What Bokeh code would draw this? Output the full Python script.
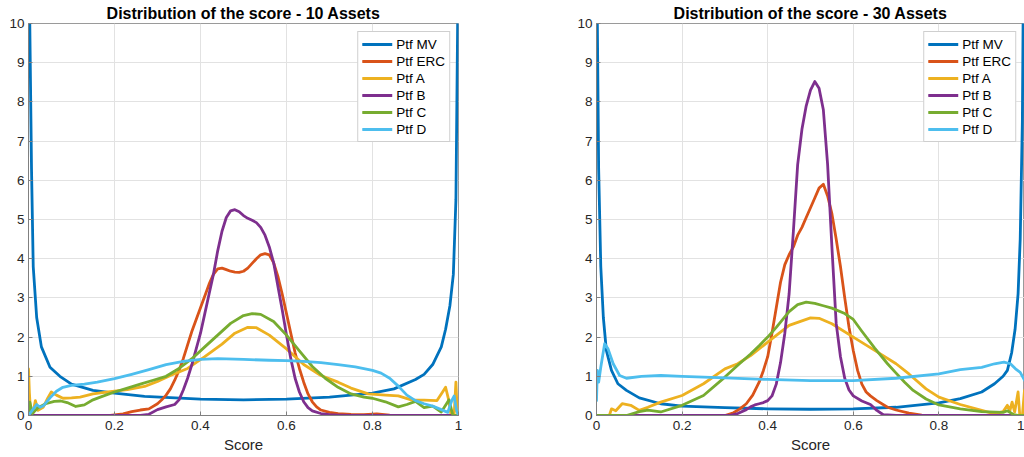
from bokeh.plotting import figure
from bokeh.models import Legend, LegendItem, FixedTicker, Range1d
from bokeh.layouts import row
from bokeh.embed import file_html
from bokeh.resources import INLINE

# ---------------- data ----------------
series_names = ["Ptf MV", "Ptf ERC", "Ptf A", "Ptf B", "Ptf C", "Ptf D"]
series_colors = ["#0072BD", "#D95319", "#EDB120", "#7E2F8E", "#77AC30", "#4DBEEE"]
titles = ["Distribution of the score - 10 Assets", "Distribution of the score - 30 Assets"]
x_ticks = [0, 0.2, 0.4, 0.6, 0.8, 1]
x_tick_labels = ["0", "0.2", "0.4", "0.6", "0.8", "1"]
y_ticks = [0, 1, 2, 3, 4, 5, 6, 7, 8, 9, 10]

# --- 10 assets ---
x10_mv = [0.0, 0.001, 0.003, 0.007, 0.011, 0.019, 0.03, 0.05, 0.073, 0.1, 0.15, 0.2, 0.27, 0.4, 0.5, 0.6, 0.7,
          0.8, 0.85, 0.9, 0.92, 0.94, 0.96, 0.97, 0.98, 0.988, 0.994, 0.998, 1.0]
y10_mv = [16, 14, 10, 6.3, 3.8, 2.5, 1.75, 1.23, 1.0, 0.8, 0.64, 0.57, 0.49, 0.42, 0.4, 0.42, 0.47,
          0.57, 0.68, 0.92, 1.05, 1.3, 1.75, 2.2, 2.8, 3.6, 5.5, 10, 16]

x10_erc = [0, 0.19, 0.22, 0.24, 0.26, 0.28, 0.30, 0.31, 0.32, 0.33, 0.34, 0.35, 0.36, 0.37, 0.38, 0.39, 0.40,
           0.41, 0.42, 0.43, 0.44, 0.45, 0.46, 0.47, 0.48, 0.49, 0.50, 0.51, 0.52, 0.53, 0.54, 0.55, 0.56,
           0.57, 0.58, 0.59, 0.60, 0.61, 0.62, 0.63, 0.64, 0.65, 0.66, 0.67, 0.68, 0.70, 0.72, 0.75, 0.78,
           0.81, 0.84, 0.86, 1.0]
y10_erc = [0, 0, 0.04, 0.1, 0.14, 0.17, 0.3, 0.4, 0.52, 0.68, 0.9, 1.15, 1.45, 1.8, 2.15, 2.45, 2.75,
           3.05, 3.35, 3.6, 3.74, 3.76, 3.72, 3.68, 3.66, 3.65, 3.68, 3.76, 3.88, 4.0, 4.1, 4.13, 4.1,
           3.9, 3.55, 3.1, 2.6, 2.1, 1.6, 1.2, 0.85, 0.55, 0.35, 0.22, 0.14, 0.08, 0.05, 0.03, 0.02,
           0.04, 0.01, 0, 0]

x10_a = [0, 0.002, 0.005, 0.01, 0.016, 0.022, 0.034, 0.045, 0.053, 0.065, 0.08, 0.1, 0.12, 0.15, 0.19,
         0.23, 0.27, 0.3, 0.33, 0.37, 0.41, 0.45, 0.48, 0.51, 0.53, 0.56, 0.6, 0.64, 0.68, 0.72, 0.75,
         0.79, 0.83, 0.86, 0.89, 0.92, 0.95, 0.963, 0.97, 0.976, 0.982, 0.99, 0.994, 0.997, 1.0]
y10_a = [1.19, 0.6, 0.05, 0.05, 0.38, 0.13, 0.21, 0.45, 0.6, 0.52, 0.44, 0.45, 0.47, 0.55, 0.61,
         0.66, 0.74, 0.87, 1.02, 1.2, 1.5, 1.82, 2.1, 2.25, 2.24, 2.05, 1.7, 1.3, 1.02, 0.85, 0.7,
         0.55, 0.52, 0.5, 0.4, 0.39, 0.38, 0.6, 0.72, 0.45, 0.05, 0.05, 0.85, 0.1, 0]

x10_b = [0, 0.26, 0.28, 0.30, 0.32, 0.34, 0.35, 0.36, 0.37, 0.38, 0.39, 0.40, 0.41, 0.42, 0.43, 0.44,
         0.45, 0.46, 0.47, 0.48, 0.49, 0.50, 0.51, 0.52, 0.53, 0.54, 0.55, 0.56, 0.57, 0.58, 0.59, 0.60,
         0.61, 0.62, 0.63, 0.64, 0.65, 0.66, 0.68, 0.70, 0.72, 0.75, 1.0]
y10_b = [0, 0, 0.03, 0.15, 0.22, 0.28, 0.4, 0.65, 0.95, 1.3, 1.7, 2.1, 2.6, 3.1, 3.6, 4.2,
         4.7, 5.05, 5.22, 5.25, 5.2, 5.1, 5.03, 4.98, 4.92, 4.8, 4.6, 4.3, 3.9, 3.3, 2.7, 2.05,
         1.45, 0.95, 0.6, 0.35, 0.2, 0.12, 0.05, 0.02, 0.01, 0, 0]

x10_c = [0, 0.003, 0.009, 0.015, 0.022, 0.04, 0.06, 0.075, 0.09, 0.11, 0.13, 0.15, 0.17, 0.2, 0.23,
         0.26, 0.29, 0.32, 0.35, 0.38, 0.41, 0.44, 0.47, 0.5, 0.52, 0.54, 0.57, 0.6, 0.63, 0.66, 0.69,
         0.72, 0.75, 0.78, 0.8, 0.83, 0.86, 0.88, 0.9, 0.92, 0.94, 0.96, 0.978, 0.987, 1.0]
y10_c = [0, 0.34, 0.05, 0.12, 0.2, 0.3, 0.36, 0.37, 0.33, 0.23, 0.27, 0.4, 0.48, 0.6, 0.7,
         0.8, 0.9, 1.0, 1.2, 1.45, 1.75, 2.05, 2.35, 2.55, 2.6, 2.58, 2.4, 2.05, 1.65, 1.25, 0.95,
         0.72, 0.55, 0.47, 0.44, 0.35, 0.22, 0.28, 0.36, 0.2, 0.24, 0.09, 0.4, 0, 0]

x10_d = [0, 0.01, 0.019, 0.027, 0.035, 0.05, 0.065, 0.08, 0.1, 0.13, 0.16, 0.2, 0.24, 0.28, 0.32, 0.36,
         0.4, 0.44, 0.5, 0.56, 0.6, 0.64, 0.68, 0.72, 0.76, 0.8, 0.82, 0.84, 0.86, 0.88, 0.9, 0.92,
         0.94, 0.96, 0.975, 0.985, 0.99, 0.995, 1.0]
y10_d = [0, 0.15, 0.28, 0.21, 0.25, 0.45, 0.62, 0.72, 0.77, 0.8, 0.85, 0.94, 1.05, 1.17, 1.3, 1.38,
         1.43, 1.45, 1.43, 1.41, 1.4, 1.38, 1.35, 1.3, 1.24, 1.15, 1.08, 0.95, 0.75, 0.52, 0.38, 0.3,
         0.24, 0.15, 0.08, 0.4, 0.5, 0.15, 0]

# --- 30 assets ---
x30_mv = [0.0, 0.002, 0.005, 0.01, 0.016, 0.023, 0.035, 0.05, 0.07, 0.1, 0.15, 0.2, 0.3, 0.4, 0.5, 0.6,
          0.7, 0.8, 0.85, 0.9, 0.93, 0.95, 0.96, 0.97, 0.978, 0.985, 0.99, 0.995, 0.998, 1.0]
y30_mv = [16, 10, 6.3, 3.8, 2.5, 1.66, 1.15, 0.81, 0.64, 0.45, 0.3, 0.24, 0.2, 0.17, 0.16, 0.17,
          0.21, 0.32, 0.43, 0.6, 0.81, 1.0, 1.15, 1.6, 2.2, 3.1, 4.5, 7.5, 12, 16]

x30_erc = [0, 0.3, 0.32, 0.335, 0.35, 0.365, 0.38, 0.39, 0.4, 0.41, 0.42, 0.43, 0.44, 0.45, 0.46, 0.47,
           0.48, 0.49, 0.5, 0.51, 0.52, 0.53, 0.54, 0.55, 0.56, 0.57, 0.58, 0.59, 0.6, 0.61, 0.62, 0.63,
           0.64, 0.655, 0.68, 0.7, 0.73, 0.76, 1.0]
y30_erc = [0, 0, 0.07, 0.17, 0.3, 0.52, 0.85, 1.15, 1.5, 2.1, 2.75, 3.4, 3.85, 4.1, 4.3, 4.6,
           4.8, 5.05, 5.3, 5.55, 5.8, 5.9, 5.6, 5.15, 4.5, 3.8, 3.0, 2.25, 1.65, 1.15, 0.8, 0.6,
           0.5, 0.38, 0.21, 0.14, 0.06, 0.01, 0]

x30_a = [0, 0.03, 0.035, 0.045, 0.06, 0.08, 0.1, 0.12, 0.15, 0.2, 0.25, 0.3, 0.33, 0.36, 0.4, 0.45,
         0.5, 0.52, 0.55, 0.6, 0.65, 0.7, 0.73, 0.77, 0.8, 0.85, 0.9, 0.93, 0.95, 0.96, 0.966, 0.971,
         0.977, 0.985, 0.989, 0.995, 1.0]
y30_a = [0, 0, 0.17, 0.12, 0.3, 0.26, 0.13, 0.21, 0.34, 0.51, 0.81, 1.19, 1.32, 1.53, 1.87, 2.3,
         2.49, 2.48, 2.34, 2.0, 1.66, 1.32, 1.06, 0.68, 0.47, 0.28, 0.13, 0.04, 0.1, 0.26, 0.13, 0.34,
         0.09, 0.6, 0.0, 0.0, 0.64]

x30_b = [0, 0.31, 0.33, 0.35, 0.36, 0.37, 0.38, 0.39, 0.4, 0.41, 0.42, 0.43, 0.44, 0.45, 0.46, 0.47,
         0.48, 0.49, 0.5, 0.51, 0.52, 0.53, 0.54, 0.55, 0.56, 0.57, 0.58, 0.59, 0.6, 0.62, 0.64, 0.655,
         0.67, 0.7, 1.0]
y30_b = [0, 0, 0.05, 0.15, 0.22, 0.27, 0.3, 0.33, 0.38, 0.5, 0.8, 1.35, 2.1, 3.1, 4.7, 6.4,
         7.3, 7.9, 8.3, 8.52, 8.35, 7.8, 6.4, 4.3, 2.35, 1.5, 0.95, 0.65, 0.5, 0.37, 0.28, 0.13,
         0.02, 0, 0]

x30_c = [0, 0.07, 0.1, 0.12, 0.15, 0.2, 0.25, 0.3, 0.33, 0.36, 0.38, 0.4, 0.42, 0.45, 0.47, 0.49,
         0.51, 0.53, 0.55, 0.58, 0.6, 0.62, 0.65, 0.68, 0.7, 0.72, 0.74, 0.77, 0.8, 0.85, 0.9, 0.95,
         0.96, 0.975, 0.985, 1.0]
y30_c = [0, 0, 0.1, 0.14, 0.09, 0.26, 0.51, 0.98, 1.28, 1.57, 1.78, 2.0, 2.25, 2.65, 2.83, 2.89,
         2.86, 2.8, 2.74, 2.6, 2.45, 2.15, 1.72, 1.32, 1.08, 0.85, 0.64, 0.42, 0.27, 0.17, 0.1, 0.08,
         0.12, 0.02, 0, 0]

x30_d = [0, 0.002, 0.005, 0.01, 0.019, 0.027, 0.039, 0.054, 0.07, 0.105, 0.15, 0.2, 0.3, 0.4, 0.5,
         0.6, 0.7, 0.8, 0.85, 0.9, 0.93, 0.952, 0.967, 0.979, 0.99, 0.998, 1.0]
y30_d = [0.38, 1.15, 0.85, 1.23, 1.83, 1.7, 1.32, 1.02, 0.95, 1.0, 1.02, 1.0, 0.96, 0.92, 0.89,
         0.89, 0.95, 1.06, 1.17, 1.23, 1.32, 1.36, 1.32, 1.19, 1.1, 0.94, 0.9]

panels = [
    [(x10_mv, y10_mv), (x10_erc, y10_erc), (x10_a, y10_a), (x10_b, y10_b), (x10_c, y10_c), (x10_d, y10_d)],
    [(x30_mv, y30_mv), (x30_erc, y30_erc), (x30_a, y30_a), (x30_b, y30_b), (x30_c, y30_c), (x30_d, y30_d)],
]

FONT = "Liberation Sans"


def make_panel(title, data, width, border_left, border_right):
    p = figure(width=width, height=457, x_range=Range1d(0, 1), y_range=Range1d(0, 10),
               output_backend="svg", toolbar_location=None,
               min_border_left=border_left, min_border_right=border_right,
               min_border_top=23, min_border_bottom=42)
    p.title.text = title
    p.title.align = "center"
    p.title.text_font = FONT
    p.title.text_font_size = "16px"
    p.title.text_font_style = "bold"
    p.title.text_color = "#000000"
    p.title.standoff = 3

    p.xaxis.ticker = FixedTicker(ticks=x_ticks)
    p.xaxis.major_label_overrides = {t: l for t, l in zip(x_ticks, x_tick_labels)}
    p.yaxis.ticker = FixedTicker(ticks=y_ticks)
    p.xaxis.axis_label = "Score"
    p.xaxis.axis_label_text_font = FONT
    p.xaxis.axis_label_text_font_size = "15px"
    p.xaxis.axis_label_text_font_style = "normal"
    p.xaxis.axis_label_text_color = "#262626"
    p.xaxis.axis_label_standoff = 3
    for ax in (p.xaxis, p.yaxis):
        ax.major_label_text_font = FONT
        ax.major_label_text_font_size = "13.5px"
        ax.major_label_text_color = "#262626"
        ax.axis_line_color = "#808080"
        ax.major_tick_line_color = "#808080"
        ax.major_tick_in = 4
        ax.major_tick_out = 0
        ax.minor_tick_line_color = None
    p.xaxis.major_label_standoff = 5
    p.yaxis.major_label_standoff = 4

    p.xgrid.grid_line_color = "#e2e2e2"
    p.ygrid.grid_line_color = "#e2e2e2"
    p.outline_line_color = "#9a9a9a"
    p.background_fill_color = "white"

    items = []
    for (xs, ys), name, col in zip(data, series_names, series_colors):
        r = p.line(xs, ys, line_color=col, line_width=2.8, line_join="round", line_cap="round")
        items.append(LegendItem(label=name, renderers=[r]))
    legend = Legend(items=items, location="top_right")
    legend.label_text_font = FONT
    legend.label_text_font_size = "13.5px"
    legend.label_text_color = "#000000"
    legend.glyph_width = 30
    legend.glyph_height = 16
    legend.label_height = 16
    legend.label_standoff = 4
    legend.spacing = 1
    legend.padding = 4
    legend.margin = 8
    legend.border_line_color = "#a0a0a0"
    legend.background_fill_alpha = 1.0
    p.add_layout(legend)
    return p


p1 = make_panel(titles[0], panels[0], 574, 28, 116)
p2 = make_panel(titles[1], panels[1], 450, 21, 0)
layout = row(p1, p2)

open("out.html", "w").write(file_html(layout, INLINE))
